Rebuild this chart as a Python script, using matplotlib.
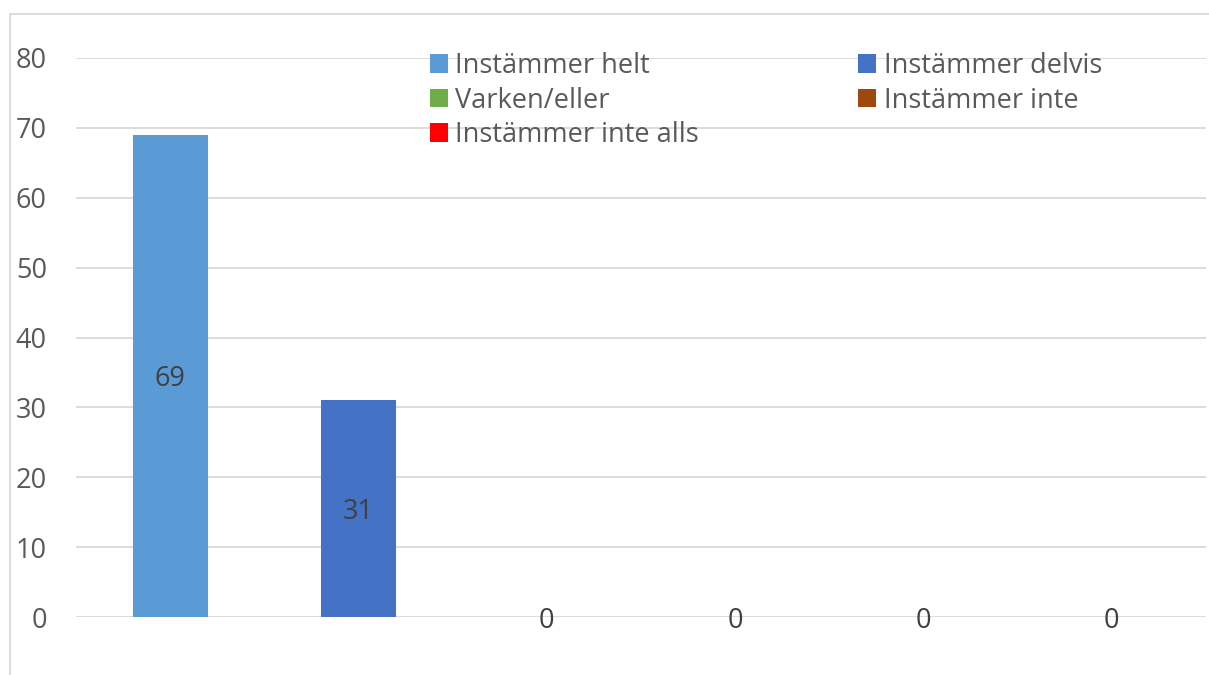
import matplotlib.pyplot as plt
from matplotlib.patches import Patch
from matplotlib.lines import Line2D

# svarsfördelning (procent) per alternativ
values = [69, 31, 0, 0, 0, 0]
legend_labels = ["Instämmer helt", "Instämmer delvis", "Varken/eller",
                 "Instämmer inte", "Instämmer inte alls"]
colors = ["#5B9BD5", "#4472C4", "#70AD47", "#9E480E", "#FF0000", "#A5A5A5"]

plt.rcParams['font.family'] = ['Open Sans', 'DejaVu Sans']

fig = plt.figure(figsize=(12.09, 6.75), dpi=100)
W, H = 1209, 675
ax = fig.add_axes([76 / W, 1 - 617 / H, (1206 - 76) / W, (617 - 58) / H])

x = list(range(len(values)))
bars = ax.bar(x, values, width=0.40, color=colors, zorder=3)
texts = ax.bar_label(bars, labels=[str(v) for v in values], label_type='center',
                     fontsize=19.5, color='#404040', zorder=4)
for t in texts:
    t.set_verticalalignment('center_baseline')

ax.set_xlim(-0.5, len(values) - 0.5)
ax.set_ylim(0, 80)
ax.set_yticks(range(0, 81, 10))
ax.set_xticks([])
ax.tick_params(axis='y', length=0, pad=21, labelsize=19.5, labelcolor='#595959')
ax.grid(axis='y', color='#D9D9D9', linewidth=1.3, zorder=0)
for s in ax.spines.values():
    s.set_visible(False)

# legend: två kolumner, fylls kolumnvis
order = [0, 2, 4, 1, 3]
handles = [Patch(facecolor=colors[i], edgecolor='none') for i in order]
labels = [legend_labels[i] for i in order]
leg = fig.legend(handles, labels, ncol=2, frameon=False,
                 loc='upper left', bbox_to_anchor=(430 / W, 1 - 52 / H),
                 fontsize=19.5, handlelength=0.66, handleheight=0.66,
                 handletextpad=0.28, columnspacing=5.87, labelspacing=0.24,
                 borderaxespad=0, borderpad=0)
for t in leg.get_texts():
    t.set_color('#595959')

# diagramram
fig.add_artist(Line2D([10 / W, 10 / W], [0, 1 - 14 / H], transform=fig.transFigure,
                      color='#D9D9D9', linewidth=1.3))
fig.add_artist(Line2D([10 / W, 1], [1 - 14 / H, 1 - 14 / H], transform=fig.transFigure,
                      color='#D9D9D9', linewidth=1.3))

fig.savefig("out.png", dpi=100, facecolor='white')
